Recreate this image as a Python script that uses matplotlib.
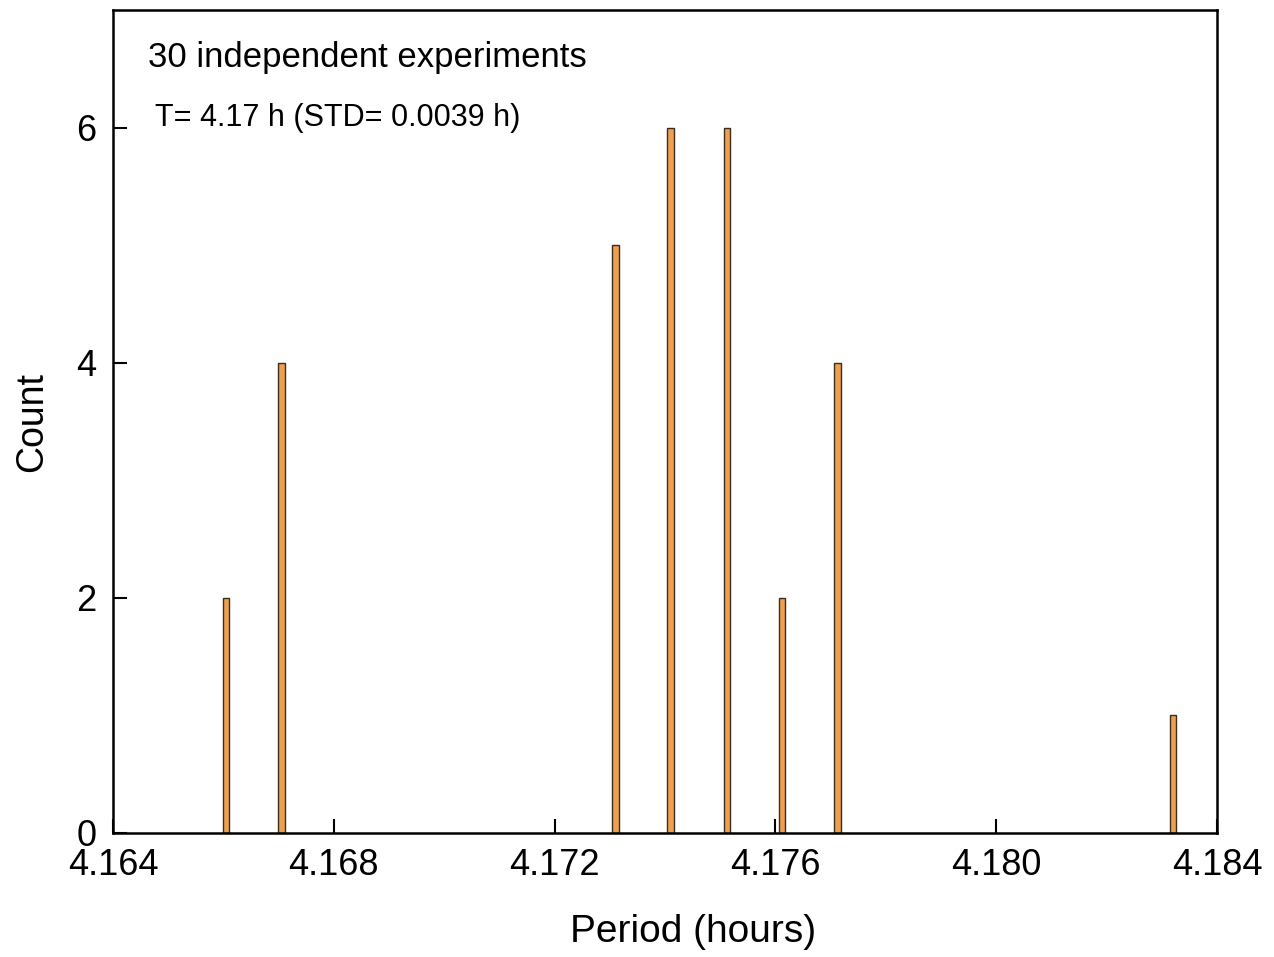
import matplotlib
matplotlib.use("Agg")
import matplotlib.pyplot as plt

plt.rcParams['font.family'] = ['Liberation Sans', 'DejaVu Sans']

periods = [4.16605, 4.16705, 4.17310, 4.17410, 4.17512, 4.17612, 4.17713, 4.18320]
counts = [2, 4, 5, 6, 6, 2, 4, 1]
xticks = [4.164, 4.168, 4.172, 4.176, 4.180, 4.184]
yticks = [0, 2, 4, 6]

fig = plt.figure(figsize=(12.74, 9.57), dpi=100)
ax = fig.add_axes([113/1274, 1-833/957, 1104/1274, 823/957])

ax.bar(periods, counts, width=0.00012, color='#EDA04F', edgecolor='#3b2c1c', linewidth=1.0)

ax.set_xlim(4.164, 4.184)
ax.set_ylim(0, 7)
ax.set_xticks(xticks)
ax.set_xticklabels([f"{t:.3f}" for t in xticks])
ax.set_yticks(yticks)
ax.tick_params(direction='in', length=10, width=1.5, labelsize=26)
ax.tick_params(axis='y', pad=12)
ax.tick_params(axis='x', pad=11)
for s in ax.spines.values():
    s.set_linewidth(1.8)

ax.set_xlabel('Period (hours)', fontsize=28)
ax.xaxis.set_label_coords(0.525, -0.098)
ax.set_ylabel('Count', fontsize=27, labelpad=19)

ax.text(0.032, 0.942, '30 independent experiments', transform=ax.transAxes,
        fontsize=25, va='center', ha='left')
ax.text(0.038, 0.869, 'T= 4.17 h (STD= 0.0039 h)', transform=ax.transAxes,
        fontsize=22, va='center', ha='left')

fig.savefig('out.png', dpi=100)
